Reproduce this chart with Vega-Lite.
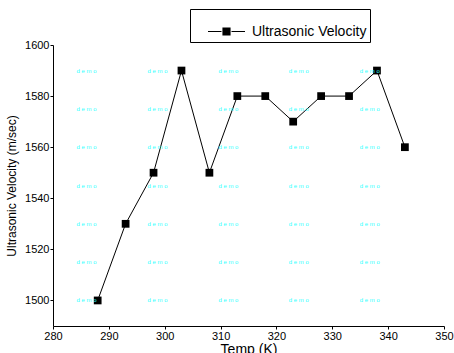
{
  "$schema": "https://vega.github.io/schema/vega-lite/v6.json",
  "width": 391,
  "height": 281,
  "autosize": {"type": "none"},
  "padding": {"left": 53, "top": 45, "right": 10, "bottom": 27},
  "background": "white",
  "config": {
    "view": {"stroke": null},
    "font": "Liberation Sans",
    "axis": {"labelFont": "Liberation Sans", "titleFont": "Liberation Sans", "titleFontWeight": "normal", "labelColor": "black", "titleColor": "black", "domainColor": "black", "tickColor": "black", "grid": false}
  },
  "datasets": {
    "vel": [
      {"temp": 288, "v": 1500, "series": "Ultrasonic Velocity"},
      {"temp": 293, "v": 1530, "series": "Ultrasonic Velocity"},
      {"temp": 298, "v": 1550, "series": "Ultrasonic Velocity"},
      {"temp": 303, "v": 1590, "series": "Ultrasonic Velocity"},
      {"temp": 308, "v": 1550, "series": "Ultrasonic Velocity"},
      {"temp": 313, "v": 1580, "series": "Ultrasonic Velocity"},
      {"temp": 318, "v": 1580, "series": "Ultrasonic Velocity"},
      {"temp": 323, "v": 1570, "series": "Ultrasonic Velocity"},
      {"temp": 328, "v": 1580, "series": "Ultrasonic Velocity"},
      {"temp": 333, "v": 1580, "series": "Ultrasonic Velocity"},
      {"temp": 338, "v": 1590, "series": "Ultrasonic Velocity"},
      {"temp": 343, "v": 1560, "series": "Ultrasonic Velocity"}
    ],
    "wm": [
      {"x": 286, "y": 1500}, {"x": 298.7, "y": 1500}, {"x": 311.4, "y": 1500}, {"x": 324, "y": 1500}, {"x": 336.7, "y": 1500},
      {"x": 286, "y": 1515}, {"x": 298.7, "y": 1515}, {"x": 311.4, "y": 1515}, {"x": 324, "y": 1515}, {"x": 336.7, "y": 1515},
      {"x": 286, "y": 1530}, {"x": 298.7, "y": 1530}, {"x": 311.4, "y": 1530}, {"x": 324, "y": 1530}, {"x": 336.7, "y": 1530},
      {"x": 286, "y": 1545}, {"x": 298.7, "y": 1545}, {"x": 311.4, "y": 1545}, {"x": 324, "y": 1545}, {"x": 336.7, "y": 1545},
      {"x": 286, "y": 1560}, {"x": 298.7, "y": 1560}, {"x": 311.4, "y": 1560}, {"x": 324, "y": 1560}, {"x": 336.7, "y": 1560},
      {"x": 286, "y": 1575}, {"x": 298.7, "y": 1575}, {"x": 311.4, "y": 1575}, {"x": 324, "y": 1575}, {"x": 336.7, "y": 1575},
      {"x": 286, "y": 1590}, {"x": 298.7, "y": 1590}, {"x": 311.4, "y": 1590}, {"x": 324, "y": 1590}, {"x": 336.7, "y": 1590}
    ]
  },
  "layer": [
    {
      "data": {"name": "vel"},
      "mark": {"type": "line", "color": "black", "strokeWidth": 1},
      "encoding": {
        "x": {"field": "temp", "type": "quantitative", "scale": {"domain": [280, 350], "nice": false, "zero": false},
              "axis": {"title": "Temp (K)", "format": "d", "values": [280, 290, 300, 310, 320, 330, 340, 350], "tickSize": 3, "labelFontSize": 11, "titleFontSize": 14, "titlePadding": 1, "labelPadding": 1, "labelOverlap": false, "labelFlush": false}},
        "y": {"field": "v", "type": "quantitative", "scale": {"domain": [1490, 1600], "nice": false, "zero": false},
              "axis": {"title": "Ultrasonic Velocity (m/sec)", "format": "d", "values": [1500, 1520, 1540, 1560, 1580, 1600], "tickSize": 3, "labelFontSize": 11, "titleFontSize": 12, "titlePadding": 6, "labelPadding": 1, "labelOverlap": false, "labelFlush": false}}
      }
    },
    {
      "data": {"name": "vel"},
      "mark": {"type": "point", "filled": true, "opacity": 1, "color": "black"},
      "encoding": {
        "x": {"field": "temp", "type": "quantitative"},
        "y": {"field": "v", "type": "quantitative"},
        "shape": {"field": "series", "type": "nominal", "scale": {"range": ["M-1,-0.03L-0.27,-0.03L-0.27,0.03L-1,0.03Z M0.27,-0.03L1,-0.03L1,0.03L0.27,0.03Z M-0.22,-0.22L0.22,-0.22L0.22,0.22L-0.22,0.22Z"]},
                  "legend": {"title": null, "orient": "none", "legendX": 137, "legendY": -36, "strokeColor": "black", "padding": 3, "labelFontSize": 14, "labelFont": "Liberation Sans", "labelColor": "black", "labelOffset": 6, "symbolSize": 1369, "symbolOffset": 14, "symbolFillColor": "black", "symbolOpacity": 1}},
        "size": {"value": 30}
      }
    },
    {
      "data": {"name": "vel"},
      "mark": {"type": "square", "color": "black", "size": 60, "opacity": 1},
      "encoding": {
        "x": {"field": "temp", "type": "quantitative"},
        "y": {"field": "v", "type": "quantitative"}
      }
    },
    {
      "data": {"name": "wm"},
      "mark": {"type": "text", "text": "d e m o", "color": "#33ffff", "fontSize": 6, "font": "Liberation Sans"},
      "encoding": {
        "x": {"field": "x", "type": "quantitative"},
        "y": {"field": "y", "type": "quantitative"}
      }
    }
  ]
}
